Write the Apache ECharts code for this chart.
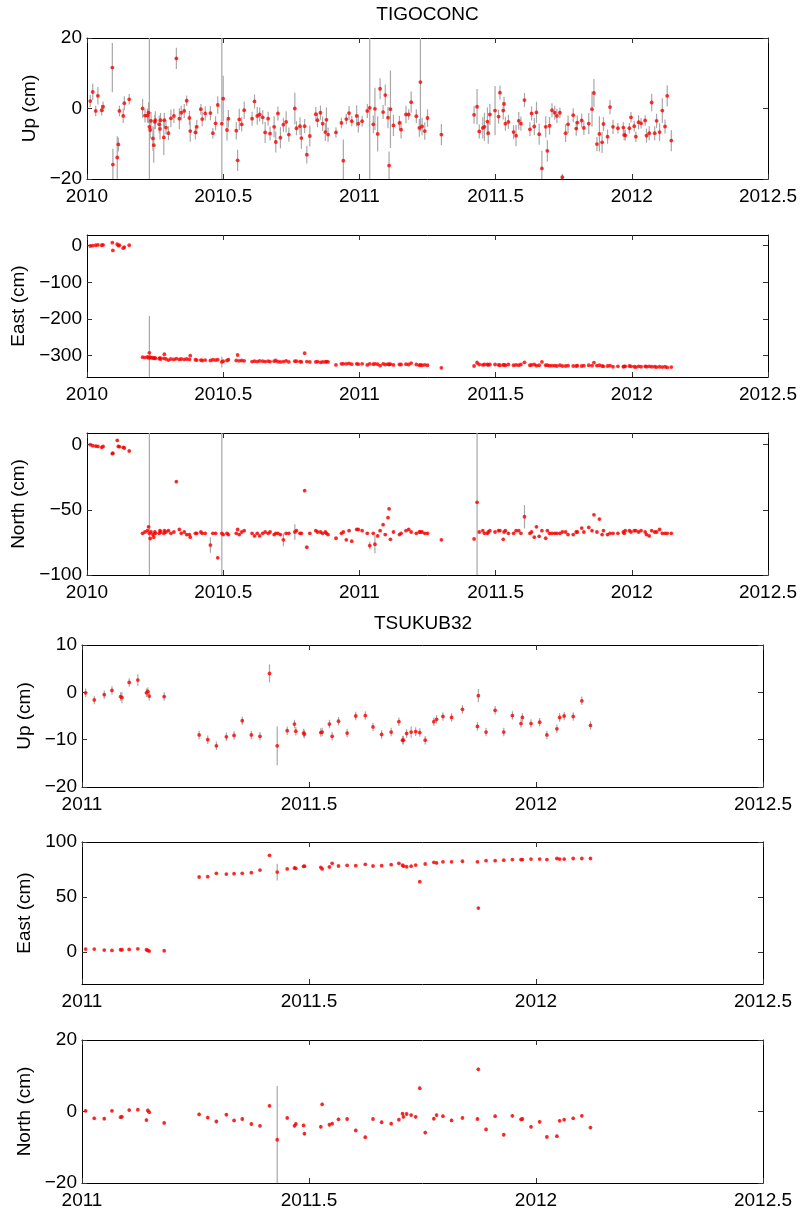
<!DOCTYPE html>
<html><head><meta charset="utf-8">
<script src="https://cdn.jsdelivr.net/npm/echarts@6/dist/echarts.min.js"></script>
<style>html,body{margin:0;padding:0;background:#fff}#c{width:803px;height:1213px}</style>
</head><body><div id="c"></div>
<script>
// ---------- TIGOCONC ----------
const tigoDates = [
2010.012,2010.021,2010.032,2010.040,2010.054,2010.059,2010.093,2010.095,2010.111,2010.115,2010.119,2010.133,2010.137,2010.155,
2010.204,2010.213,2010.222,2010.226,2010.229,2010.232,2010.235,2010.242,2010.245,2010.249,
2010.251,2010.265,2010.268,2010.270,2010.282,2010.284,2010.290,2010.299,2010.308,2010.319,
2010.328,2010.339,2010.346,2010.357,2010.366,2010.376,2010.379,2010.398,2010.403,2010.418,
2010.423,2010.434,2010.453,2010.462,2010.472,2010.480,2010.495,2010.500,2010.514,2010.519,
2010.548,2010.553,2010.559,2010.568,2010.577,2010.606,2010.615,2010.625,2010.634,2010.645,
2010.654,2010.665,2010.672,2010.687,2010.693,2010.701,2010.710,2010.721,2010.731,2010.741,
2010.763,2010.769,2010.782,2010.787,2010.799,2010.807,2010.818,2010.840,2010.846,2010.857,
2010.865,2010.875,2010.879,2010.885,2010.914,2010.934,2010.941,2010.952,2010.962,2010.972,
2010.990,2010.996,2011.010,2011.029,2011.038,2011.051,2011.057,2011.067,2011.076,2011.087,
2011.095,2011.105,2011.109,2011.114,2011.125,2011.147,2011.153,2011.171,2011.181,2011.190,
2011.209,2011.220,2011.224,2011.230,2011.240,2011.250,2011.301,
2011.421,2011.432,2011.440,2011.453,2011.459,2011.470,2011.473,2011.479,2011.498,2011.511,
2011.516,2011.528,2011.531,2011.536,2011.547,2011.566,2011.575,2011.585,2011.593,2011.606,
2011.626,2011.632,2011.642,2011.650,2011.660,2011.670,2011.684,2011.690,2011.698,2011.707,
2011.717,2011.725,2011.736,2011.745,2011.757,2011.766,2011.785,2011.796,2011.800,2011.816,
2011.824,2011.842,2011.854,2011.861,2011.872,2011.881,2011.891,2011.896,2011.911,2011.920,
2011.931,2011.949,2011.969,2011.972,2011.976,2011.991,2011.997,2012.009,2012.015,2012.025,
2012.034,2012.049,2012.054,2012.064,2012.073,2012.084,2012.091,2012.102,2012.112,2012.122,
2012.130,2012.145];

const tigoUp = [
2.1,4.7,-0.7,3.6,-0.5,0.5,11.6,-15.9,-13.9,-10.2,-0.7,-2.1,1.5,2.6,
0,-2,-2,-1.2,-5.2,-6.1,-3.5,-8.5,-10.4,-3.8,
-3.3,-4.5,-5.8,-3.3,-8.2,-3.3,-5.4,-7,-2.8,-2.1,
14.2,-2.9,-1.2,-0.7,2.2,-2.7,-6.4,-6.8,-5.2,-0.2,
-3,-1.4,-1.3,-7,-4.2,1,-4.3,2.8,-6.1,-2.9,
-6.3,-14.7,-3.1,-4.5,-0.5,-2.9,2,-2.1,-1.7,-2.5,
-6.8,-2.9,-7.1,-5.2,-9.5,-1.4,-8.3,-4.6,-3.8,-7.4,
0,-5.6,-5,-8.4,-5,-13.1,-7.8,-1.6,-3.3,-1.2,
-4.3,-6.7,-3.2,-7.4,-6.8,-4.1,-14.8,-3,-1.3,-3.6,
-2.1,-4.3,-3.6,-0.7,0.2,-4.5,-0.1,-7.2,5.6,-1,
3.8,-2.6,-16.2,-0.2,-4.8,-4.1,-6,-1.7,-1.7,1.8,
-2.2,-5.5,7.5,-5.1,-6.4,-2.7,-7.4,
-1.8,0.5,-6.5,-5.5,-5.2,-3.7,-7,-1.7,-0.6,-2.3,
4.5,-0.6,1.3,-4.3,-3.8,-6.7,-7.7,-3.5,-4.3,2.4,
-5.9,-1.4,-5.1,-1.1,-7.3,-17,-5.2,-12,-4.9,-0.5,
-1.2,-2.1,-1.2,-19.5,-7,-4.5,-1.9,-5.7,-4,-3.4,
-5.5,-4.3,-0.2,4.4,-10.1,-7.2,-9.6,-4.4,-8,0.4,
-5.2,-5.6,-5.4,-7.5,-7.6,-5.6,-2.5,-5,-8,-3.9,
-4.2,-3.4,-7.7,-7,1.7,-7,-3.5,-6.7,-0.6,-5.1,
3.6,-9.1];

const tigoUpErr = [
1.7,2.3,1.5,2.5,1.5,1.5,7,4.5,6,2,1.5,2,2,1.5,
2.7,2,2,3,40,2.5,2.5,3.5,5,2,
2.5,2.5,3,2,5,2,2,2,2.5,2,
3,3,2,2,1.5,2,3,2,2,1.5,
2,2,2,1.5,2,2.5,30,6.5,3,2.5,
2.5,3,3,2,2.5,2,2,2.5,2,2,
3,2,2,3,3,2,3,2,3,2,
4.5,2,2.5,3,2,2.5,3,2,2,2,
2,2.5,3.5,2,1.5,1.5,6,1.5,2,1.5,
3,2.5,1.5,2,40,2.5,6,5,3,2,
3,3,4,11,3,2,2.5,2.5,1.5,3,
2,2.5,14,2.5,2.5,2.5,3,
2.5,5,2,3,4,4,3,3,7,2,
2,2.5,2,2,2,2,3,2.5,2,2,
2,2,2.5,3,3,5,3,3,2.5,2,
2,2,1.5,1,2.5,2.5,2,2,2,2,
2,3,5,4,2,5,3,2,2,2,
2,1.5,1.5,1.5,1.5,1.5,1.5,1.5,1.5,2,
1.5,1.5,2,2,2.5,2,2,2.5,3.5,2,
3,3];

const tigoEast = [
-1,0,1,2,1,2,8,-13,4,0,1,-7,-4,1,
-304,-305,-303,-306,-292,-304,-306,-305,-307,-306,
-307,-308,-306,-309,-307,-296,-309,-312,-309,-310,
-308,-310,-309,-310,-309,-310,-300,-311,-312,-312,
-313,-312,-313,-311,-312,-311,-317,-315,-313,-311,
-313,-298,-314,-313,-314,-316,-315,-316,-314,-315,
-316,-315,-316,-315,-313,-316,-317,-316,-314,-317,
-315,-315,-316,-317,-293,-316,-317,-317,-316,-318,
-317,-317,-316,-317,-325,-322,-322,-322,-321,-323,
-322,-323,-322,-325,-322,-323,-322,-323,-327,-322,
-324,-323,-324,-323,-325,-324,-324,-323,-324,-320,
-324,-326,-325,-326,-325,-326,-333,
-328,-319,-324,-325,-324,-324,-325,-324,-324,-325,
-326,-325,-325,-326,-324,-326,-325,-326,-324,-318,
-326,-325,-324,-327,-326,-317,-326,-326,-327,-327,
-327,-328,-326,-328,-328,-327,-328,-328,-327,-328,
-327,-326,-327,-319,-327,-326,-328,-329,-328,-327,
-330,-329,-330,-329,-329,-328,-329,-330,-331,-329,
-330,-329,-330,-329,-330,-330,-331,-330,-331,-330,
-332,-331];

const tigoNorth = [
0,-0.8,-1,-1.3,-2,-1.3,-6.9,-6.5,3.3,-1.3,-1.5,-2,-2.5,-4.8,
-68,-67,-66,-63,-68,-72,-67,-69,-71,-67,
-68,-68,-66,-67,-68,-66,-67,-66,-68,-67,
-28.4,-65,-68,-67,-69,-69,-71,-68,-68,-67,
-68,-68,-77,-68,-68,-86.8,-68,-69,-68,-69,
-68,-65,-69,-67,-66,-68,-70,-68,-70,-68,
-67,-68,-67,-69,-68,-68,-69,-73,-68,-68,
-67,-66,-68,-68,-35.3,-78.7,-68,-66,-67,-67,
-68,-67,-68,-69,-71.8,-68,-67,-73,-66,-74,
-65,-65,-66,-68,-77.4,-68,-76.4,-70,-66,-61.4,
-69,-56,-49.2,-72.6,-67,-69,-68,-66,-65,-67,
-68,-67,-67,-67,-68,-68,-73,
-72.3,-44.2,-67,-66,-68,-68,-67,-66,-67,-66,
-66,-72.6,-67,-66,-68,-68,-66,-66,-68,-55.3,
-68,-67,-71,-63,-70.3,-66,-71.8,-66,-68,-68,
-68,-68,-68,-67,-67,-69,-69,-67,-67,-64,
-67,-63.5,-66,-53.8,-67,-57.1,-69,-66,-69,-68,
-68,-68,-67,-68,-66,-66,-67,-66,-66,-67,
-66,-67,-69,-70,-66,-67,-67,-65,-68,-68,
-68,-68];

// error bars for East/North: usual size plus the larger ones [date, error]
const tigoEastErrUsual = 1;
const tigoEastErrLarge = [[2010.229,100],[2010.495,15],[2011.432,6]];
const tigoNorthErrUsual = 1;
const tigoNorthErrLarge = [[2010.229,110],[2010.495,110],[2010.453,6],[2010.721,5],[2010.763,6],
  [2011.038,3],[2011.057,7],[2011.432,110],[2011.606,9]];

// ---------- TSUKUB32 ----------
const tsukDates = [
2011.008,2011.027,2011.049,2011.066,2011.085,2011.088,2011.104,2011.123,2011.142,2011.145,2011.148,2011.181,
2011.258,2011.277,2011.296,2011.318,2011.335,2011.353,2011.373,2011.392,2011.413,2011.430,
2011.452,2011.468,2011.471,2011.488,2011.490,2011.526,2011.529,2011.545,2011.551,2011.565,
2011.584,2011.603,2011.624,2011.641,2011.660,2011.681,2011.698,
2011.706,2011.708,2011.715,2011.725,2011.735,2011.744,2011.756,2011.775,2011.781,2011.795,
2011.814,2011.838,2011.871,2011.873,2011.890,2011.910,2011.929,2011.948,2011.967,2011.970,
2011.989,2012.008,2012.024,2012.046,2012.052,2012.062,2012.082,2012.101,2012.120];

const tsukUp = [
-0.1,-1.6,-0.5,0.4,-0.9,-1.1,2.1,2.6,-0.1,0.2,-0.8,-0.9,
-9,-10,-11.3,-9.4,-9.1,-6,-9,-9.3,4,-11.3,
-8.1,-6.7,-8.2,-8.6,-8.8,-8.5,-8.4,-6.7,-9.3,-6.1,
-8.6,-5,-4.9,-7.3,-8.9,-8.4,-6.2,
-10.1,-10.1,-8.7,-8.4,-8.3,-8.5,-10.1,-6.2,-5.7,-5.1,
-5.3,-3.6,-7.2,-0.7,-8.4,-3.8,-8.4,-4.9,-6.6,-5.3,
-6.6,-6.3,-9,-7.7,-5.3,-5,-5.1,-1.8,-7];

const tsukEast = [
2.7,2.7,1.8,1.5,2.1,2.1,2.4,3,2.1,1.5,0.9,1.2,
68.2,68.5,71.5,70.9,71.2,71.5,72.1,74.5,87.9,72.7,
75.5,76.4,76,77.9,78,77,75.5,77.3,80.6,78.2,
78.8,78.5,79.7,78.2,78.5,79.4,80.6,
79,78,77.5,78,79,64,80,81.5,81,82,
82,82.5,82,40,83,83,83.5,84,84,84,
84.5,84.5,84,85,84.5,84.5,85,85,85];

const tsukNorth = [
0.2,-1.9,-2,0.2,-1.6,-1.5,0.4,0.5,-2.4,0.3,-0.2,-3.2,
-0.8,-1.7,-2.8,-0.9,-2.5,-2.1,-3.5,-4,1.6,-7.9,
-1.8,-4,-3.5,-3.9,-6.2,-4.3,2,-3.7,-3.4,-2.2,
-2.1,-5.3,-7.2,-2.1,-3,-3.4,-2.3,
-0.6,-1.5,-0.7,-1,-1.5,6.5,-5.9,-2,-1,-1.3,
-2.5,-1.8,-2.1,11.8,-5,-1.3,-6.5,-1.2,-2.2,-2.1,
-4.3,-2.9,-7.1,-6.9,-2.6,-2.3,-1.9,-1.2,-4.5];

const tsukUpErrUsual = 0.9;
const tsukUpErrLarge = [[2011.413,1.9],[2011.430,4.1],[2011.873,1.4],[2011.088,1.2],[2011.123,1.2],[2011.725,1.2]];
const tsukEastErrUsual = 0.8;
const tsukEastErrLarge = [[2011.430,7.6]];
const tsukNorthErrUsual = 0.5;
const tsukNorthErrLarge = [[2011.430,15]];

// tick labels
const tigoUpTicks = [-20,0,20];
const tigoEastTicks = [-300,-200,-100,0];
const tigoNorthTicks = [-100,-50,0];
const tsukUpTicks = [-20,-10,0,10];
const tsukEastTicks = [0,50,100];
const tsukNorthTicks = [-20,0,20];
const tigoYearTicks = [2010,2010.5,2011,2011.5,2012,2012.5];
const tsukYearTicks = [2011,2011.5,2012,2012.5];

// ---------- build ----------
function errFrom(dates, usual, large){
  return dates.map(d => { const m = large.find(p => Math.abs(p[0]-d) < 1e-6); return m ? m[1] : usual; });
}
function check(name, a, b){ if (a.length !== b.length) throw new Error(name + ' length ' + a.length + ' vs ' + b.length); }
check('tigoUp', tigoDates, tigoUp); check('tigoUpErr', tigoDates, tigoUpErr);
check('tigoEast', tigoDates, tigoEast); check('tigoNorth', tigoDates, tigoNorth);
check('tsukUp', tsukDates, tsukUp); check('tsukEast', tsukDates, tsukEast); check('tsukNorth', tsukDates, tsukNorth);

const FONT = "'Liberation Sans', Arial, Helvetica, sans-serif";
const FS = 19;

const panels = [
  {d:tigoDates, v:tigoUp, e:tigoUpErr, xr:[2010,2012.5], xt:tigoYearTicks, yr:[-20,20], yt:tigoUpTicks, name:'Up (cm)', gap:41,
   g:{left:87, top:38, width:681, height:141}},
  {d:tigoDates, v:tigoEast, e:errFrom(tigoDates,tigoEastErrUsual,tigoEastErrLarge), xr:[2010,2012.5], xt:tigoYearTicks, yr:[-358,29], yt:tigoEastTicks, name:'East (cm)', gap:54,
   g:{left:87, top:235, width:681, height:142}},
  {d:tigoDates, v:tigoNorth, e:errFrom(tigoDates,tigoNorthErrUsual,tigoNorthErrLarge), xr:[2010,2012.5], xt:tigoYearTicks, yr:[-100,9], yt:tigoNorthTicks, name:'North (cm)', gap:54,
   g:{left:87, top:433, width:681, height:142}},
  {d:tsukDates, v:tsukUp, e:errFrom(tsukDates,tsukUpErrUsual,tsukUpErrLarge), xr:[2011,2012.5], xt:tsukYearTicks, yr:[-20,10], yt:tsukUpTicks, name:'Up (cm)', gap:44,
   g:{left:82, top:645, width:681, height:142}},
  {d:tsukDates, v:tsukEast, e:errFrom(tsukDates,tsukEastErrUsual,tsukEastErrLarge), xr:[2011,2012.5], xt:tsukYearTicks, yr:[-29,100], yt:tsukEastTicks, name:'East (cm)', gap:44,
   g:{left:82, top:842, width:681, height:142}},
  {d:tsukDates, v:tsukNorth, e:errFrom(tsukDates,tsukNorthErrUsual,tsukNorthErrLarge), xr:[2011,2012.5], xt:tsukYearTicks, yr:[-20,20], yt:tsukNorthTicks, name:'North (cm)', gap:44,
   g:{left:82, top:1040, width:681, height:143}}
];

const grid = [], xAxis = [], yAxis = [], series = [];
const tickStyle = {color:'#333', width:1};
const lineStyle = {color:'#000', width:1};
const minus = v => String(v).replace('-', '\u2212');

panels.forEach((p, i) => {
  grid.push(Object.assign({outerBoundsMode:'none', containLabel:false}, p.g));
  const xBase = {type:'value', gridIndex:i, min:p.xr[0], max:p.xr[1], splitLine:{show:false},
    axisLine:{show:true, onZero:false, lineStyle:lineStyle},
    axisTick:{show:true, inside:true, length:5, customValues:p.xt, lineStyle:tickStyle}};
  xAxis.push(Object.assign({}, xBase, {position:'bottom',
    axisLabel:{show:true, customValues:p.xt, fontSize:FS, fontFamily:FONT, color:'#000', margin:8, formatter: v => String(v)}}));
  xAxis.push(Object.assign({}, xBase, {position:'top', axisLabel:{show:false}}));
  const yBase = {type:'value', gridIndex:i, min:p.yr[0], max:p.yr[1], splitLine:{show:false},
    axisLine:{show:true, onZero:false, lineStyle:lineStyle},
    axisTick:{show:true, inside:true, length:5, customValues:p.yt, lineStyle:tickStyle}};
  yAxis.push(Object.assign({}, yBase, {position:'left',
    name:p.name, nameLocation:'middle', nameRotate:90, nameGap:p.gap,
    nameTextStyle:{fontSize:FS, fontFamily:FONT, color:'#000'},
    axisLabel:{show:true, customValues:p.yt, fontSize:FS, fontFamily:FONT, color:'#000', margin:5, formatter:minus}}));
  yAxis.push(Object.assign({}, yBase, {position:'right', axisLabel:{show:false}}));

  series.push({
    type:'custom', xAxisIndex:2*i, yAxisIndex:2*i, clip:true, silent:true, z:2,
    data: p.d.map((x, k) => [x, p.v[k] - p.e[k], p.v[k] + p.e[k]]),
    encode:{x:0, y:[1,2]},
    renderItem: (params, api) => {
      const a = api.coord([api.value(0), api.value(1)]);
      const b = api.coord([api.value(0), api.value(2)]);
      return {type:'line', shape:{x1:a[0], y1:a[1], x2:b[0], y2:b[1]},
              style:{stroke:'#a8a8a8', lineWidth:1.2}};
    }
  });
  series.push({
    type:'scatter', xAxisIndex:2*i, yAxisIndex:2*i, z:5, symbol:'circle', symbolSize:3.8,
    itemStyle:{color:'#ff0000'}, silent:true,
    data: p.d.map((x, k) => [x, p.v[k]])
  });
});

const chart = echarts.init(document.getElementById('c'), null, {renderer:'canvas'});
chart.setOption({
  animation:false,
  backgroundColor:'#fff',
  grid, xAxis, yAxis, series,
  graphic:[
    {type:'text', x:427.5, y:15, style:{text:'TIGOCONC', align:'center', verticalAlign:'middle', fontSize:FS, fontFamily:FONT, fill:'#000'}},
    {type:'text', x:423, y:624, style:{text:'TSUKUB32', align:'center', verticalAlign:'middle', fontSize:FS, fontFamily:FONT, fill:'#000'}}
  ]
});
</script></body></html>
